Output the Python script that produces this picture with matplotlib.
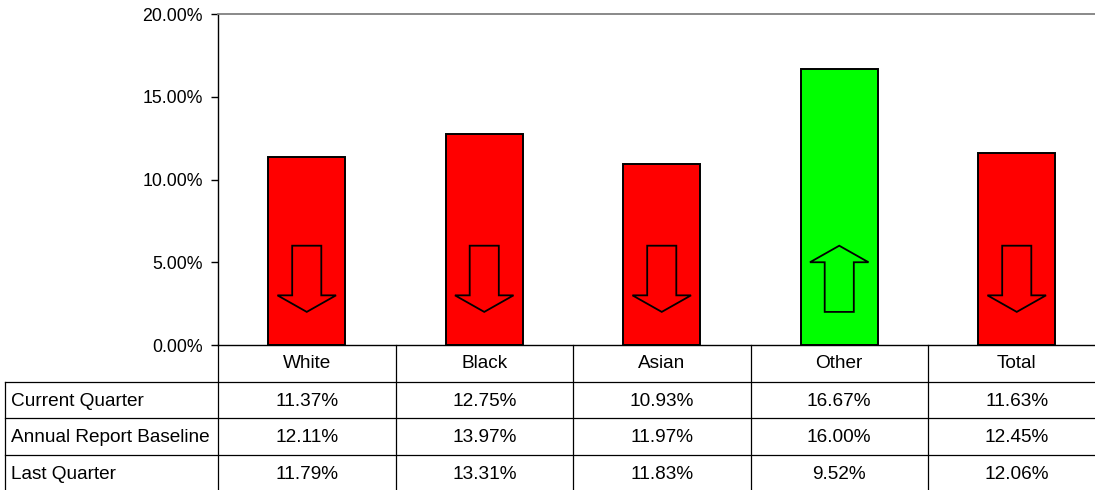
import matplotlib
matplotlib.use("Agg")
import matplotlib.pyplot as plt
import matplotlib.transforms as mtransforms
from matplotlib.patches import FancyArrow

plt.rcParams['font.family'] = ['Liberation Sans', 'DejaVu Sans']

# data
categories = ["White", "Black", "Asian", "Other", "Total"]
row_labels = ["Current Quarter", "Annual Report Baseline", "Last Quarter"]
current_quarter = [11.37, 12.75, 10.93, 16.67, 11.63]
annual_baseline = [12.11, 13.97, 11.97, 16.00, 12.45]
last_quarter = [11.79, 13.31, 11.83, 9.52, 12.06]
yticks = [0, 5, 10, 15, 20]

W, H = 1095, 490
fig = plt.figure(figsize=(W / 100, H / 100), dpi=100)

# plot area in pixels
left_px, right_px, top_px, bot_px = 218, 1105.5, 14, 345
ax = fig.add_axes([left_px / W, 1 - bot_px / H, (right_px - left_px) / W, (bot_px - top_px) / H])

x = list(range(len(categories)))
ups = [c > l for c, l in zip(current_quarter, last_quarter)]
colors = ['#00ff00' if u else '#ff0000' for u in ups]
ax.bar(x, current_quarter, width=0.434, color=colors, edgecolor='black', linewidth=1.4, zorder=2)

# trend arrows
for xi, up in zip(x, ups):
    if up:
        y0, dy = 2, 4
    else:
        y0, dy = 6, -4
    ax.add_patch(FancyArrow(xi, y0, 0, dy, width=0.164, head_width=0.33, head_length=1.0,
                            length_includes_head=True, fill=False, edgecolor='black',
                            linewidth=1.3, zorder=3))

ax.set_xlim(-0.5, len(categories) - 0.5)
ax.set_ylim(0, 20)
ax.set_yticks(yticks)
ax.set_yticklabels(["{:.2f}%".format(v) for v in yticks], fontsize=12.8)
ax.set_xticks([])
ax.tick_params(axis='y', direction='out', length=5, width=1, pad=6)
ax.spines['right'].set_visible(False)
ax.spines['top'].set_color('#808080')
ax.spines['top'].set_linewidth(1.3)
ax.spines['left'].set_linewidth(1.0)
ax.spines['bottom'].set_linewidth(1.0)

# data table under the chart
trans = mtransforms.blended_transform_factory(ax.transData, fig.transFigure)
fy = lambda p: 1 - p / H
row_h = 36.5
row_tops = [bot_px + i * row_h for i in range(5)]
fs = 13.7

# vertical lines of columns
for i in range(len(categories) + 1):
    ax.plot([i - 0.5, i - 0.5], [fy(row_tops[0]), fy(row_tops[-1])], transform=trans,
            color='black', lw=0.9, clip_on=False)
# left edge of row-label column
fig.add_artist(plt.Line2D([5 / W, 5 / W], [fy(row_tops[1]), fy(row_tops[-1])], color='black', lw=0.9))
# horizontal lines
for yt in row_tops[1:]:
    fig.add_artist(plt.Line2D([5 / W, 1.0], [fy(yt), fy(yt)], color='black', lw=0.9))

# header
for xi, c in zip(x, categories):
    ax.text(xi, fy(row_tops[0] + row_h / 2), c, transform=trans, ha='center', va='center', fontsize=fs)

rows = [current_quarter, annual_baseline, last_quarter]
for r, (lab, vals) in enumerate(zip(row_labels, rows)):
    yc = fy(row_tops[r + 1] + row_h / 2 + 1.5)
    fig.text(11 / W, yc, lab, ha='left', va='center', fontsize=fs)
    for xi, v in zip(x, vals):
        ax.text(xi, yc, "{:.2f}%".format(v), transform=trans, ha='center', va='center', fontsize=fs)

fig.savefig("out.png", dpi=100)
